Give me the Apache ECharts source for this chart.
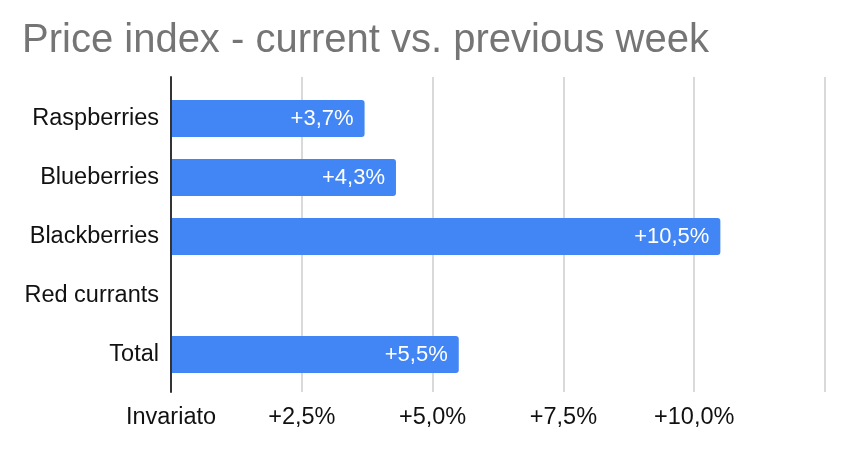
<!DOCTYPE html>
<html>
<head>
<meta charset="utf-8">
<script src="https://cdn.jsdelivr.net/npm/echarts@6/dist/echarts.min.js"></script>
<style>
html,body{margin:0;padding:0;background:#fff;}
#chart{width:848px;height:452px;}
</style>
</head>
<body>
<div id="chart"></div>
<script>
const titleText = 'Price index - current vs. previous week';
const categories = ['Raspberries', 'Blueberries', 'Blackberries', 'Red currants', 'Total'];
const values = [3.7, 4.3, 10.5, null, 5.5];
const tickValues = [0, 2.5, 5, 7.5, 10];
const tickLabels = ['Invariato', '+2,5%', '+5,0%', '+7,5%', '+10,0%'];
const axisMin = 0, axisMax = 12.5, axisStep = 2.5;

const FONT = '"Liberation Sans", Arial, sans-serif';
const chart = echarts.init(document.getElementById('chart'));

function tickFmt(v) {
  for (let i = 0; i < tickValues.length; i++) {
    if (Math.abs(tickValues[i] - v) < 1e-6) return tickLabels[i];
  }
  return '';
}

chart.setOption({
  animation: false,
  backgroundColor: '#fff',
  title: {
    text: titleText,
    left: 22, top: 21, padding: 0,
    textStyle: { fontFamily: FONT, fontSize: 40, fontWeight: 'normal', color: '#757575' }
  },
  grid: [
    { left: 171, right: 23, top: 77, bottom: 60 },
    { left: 171, right: 23, top: 89, bottom: 68 }
  ],
  xAxis: [
    {
      gridIndex: 0, type: 'value', min: axisMin, max: axisMax, interval: axisStep,
      axisLine: { show: false }, axisTick: { show: false },
      splitLine: { show: true, lineStyle: { color: '#cccccc', width: 1.5 } },
      axisLabel: { formatter: tickFmt, margin: 14, fontFamily: FONT, fontSize: 23.5, color: '#111' }
    },
    {
      gridIndex: 1, type: 'value', min: axisMin, max: axisMax, interval: axisStep,
      show: false
    }
  ],
  yAxis: [
    {
      gridIndex: 0, type: 'value', min: 0, max: 1, z: 5,
      axisLine: { show: true, lineStyle: { color: '#333', width: 2 } },
      axisTick: { show: false }, axisLabel: { show: false }, splitLine: { show: false }
    },
    {
      gridIndex: 1, type: 'category', data: categories, inverse: true,
      axisLine: { show: false }, axisTick: { show: false }, splitLine: { show: false },
      axisLabel: { margin: 12, fontFamily: FONT, fontSize: 23.5, color: '#111' }
    }
  ],
  series: [{
    type: 'bar',
    xAxisIndex: 1, yAxisIndex: 1,
    data: values,
    barWidth: 37,
    itemStyle: { color: '#4285F4', borderRadius: [0, 3, 3, 0] },
    label: {
      show: true, position: 'insideRight', distance: 11,
      fontFamily: FONT, fontSize: 22, color: '#fff',
      formatter: p => p.value == null ? '' : '+' + p.value.toFixed(1).replace('.', ',') + '%'
    }
  }]
});
</script>
</body>
</html>
